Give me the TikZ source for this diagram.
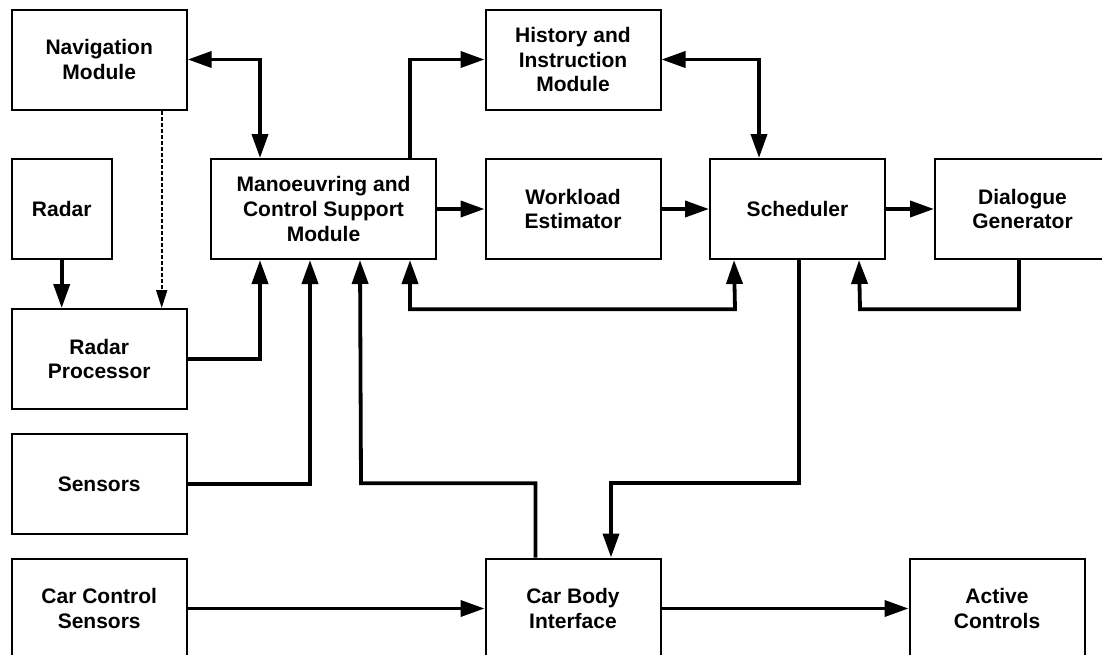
\documentclass[tikz,border=0pt]{standalone}
\usepackage{fontspec}
\setmainfont{Liberation Sans}
\usetikzlibrary{arrows.meta}
\begin{document}
\begin{tikzpicture}[x=1pt,y=-1pt,
  box/.style={draw, line width=2pt, minimum width=175pt, minimum height=100pt,
    align=center, inner sep=0pt, font=\bfseries\fontsize{21}{24.6}\selectfont},
  flow/.style={line width=3.8pt, -{Triangle[length=24pt,width=16pt]}},
  twoway/.style={line width=3.8pt, {Triangle[length=24pt,width=16pt]}-{Triangle[length=24pt,width=16pt]}},
  hint/.style={line width=1.8pt, dash pattern=on 4pt off 2pt, -{Triangle[length=18pt,width=11pt]}}]
\useasboundingbox (0,0) rectangle (1102,654);
\clip (0,0) rectangle (1102,654);

% left column
\node[box] (nav) at (99.2,59.5) {Navigation\\Module};
\node[box, minimum width=100pt] (radar) at (61.7,209) {Radar};
\node[box] (rproc) at (99.2,359) {Radar\\Processor};
\node[box] (sens) at (99.2,484) {Sensors};
\node[box] (ccs) at (99.2,608.5) {Car Control\\Sensors};

% centre and right
\node[box, minimum width=225pt] (mcs) at (323.5,209) {Manoeuvring and\\Control Support\\Module};
\node[box] (hist) at (573,59.5) {History and\\Instruction\\Module};
\node[box] (work) at (573,209) {Workload\\Estimator};
\node[box] (sched) at (797.5,209) {Scheduler};
\node[box] (dial) at (1022.5,209) {Dialogue\\Generator};
\node[box] (cbi) at (573,608.5) {Car Body\\Interface};
\node[box] (act) at (997,608.5) {Active\\Controls};

% connectors
\draw[twoway] (nav.east) -| ([xshift=50pt]mcs.north west);
\draw[flow] (radar.south) -- (radar.south |- rproc.north);
\draw[hint] ([xshift=62.5pt]nav.south) -- ([xshift=62.5pt]rproc.north);
\draw[flow] (rproc.east) -| ([xshift=50pt]mcs.south west);
\draw[flow] (sens.east) -| ([xshift=100pt]mcs.south west);
\draw[flow] ([xshift=-37.5pt]cbi.north) |- (361,483.3) -- ([xshift=150pt]mcs.south west);
\draw[flow] ([xshift=200pt]mcs.north west) |- (hist.west);
\draw[flow] (mcs.east) -- (work.west);
\draw[flow] (work.east) -- (sched.west);
\draw[flow] (sched.east) -- (dial.west);
\draw[twoway] (hist.east) -| ([xshift=50pt]sched.north west);
\draw[twoway] ([xshift=200pt]mcs.south west) |- (735,309.3) -- ([xshift=25pt]sched.south west);
\draw[flow] ([xshift=85pt]dial.south west) |- (860,309.3) -- ([xshift=150pt]sched.south west);
\draw[flow] ([xshift=90pt]sched.south west) |- (611,483.3) -- ([xshift=38pt]cbi.north);
\draw[flow] (ccs.east) -- (cbi.west);
\draw[flow] (cbi.east) -- (act.west);
\end{tikzpicture}
\end{document}
